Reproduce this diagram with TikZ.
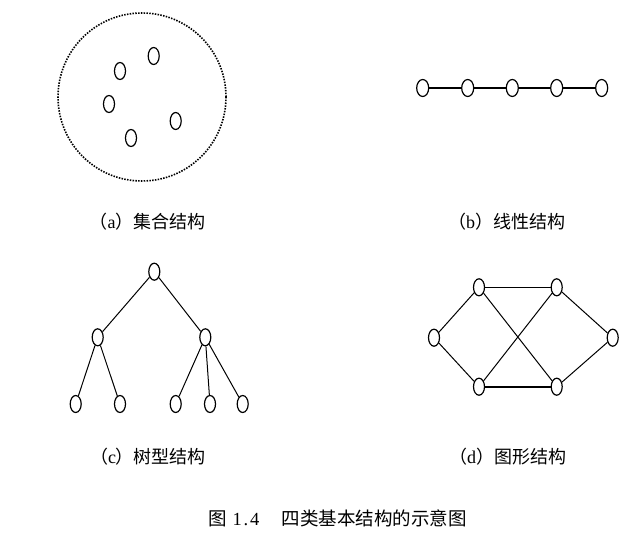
\documentclass[tikz,border=0pt]{standalone}
\usepackage{fontspec}
\setmainfont{Liberation Serif}
\newfontfamily\cjk{Noto Sans CJK SC}
\usetikzlibrary{shapes.geometric}
\begin{document}
\begin{tikzpicture}[x=1pt,y=-1pt,
  vtx/.style={draw,ellipse,line width=1.2pt,minimum width=11pt,minimum height=17pt,inner sep=0pt},
  edge/.style={line width=1pt},
  thick edge/.style={line width=1.6pt},
  captext/.style={font=\fontsize{18}{18}\selectfont, inner sep=0pt}]
\useasboundingbox (0,0) rectangle (636,537);
% (a) set
\node[draw,circle,line width=1.6pt,dash pattern=on 1.5pt off 1.3pt,minimum size=168pt,inner sep=0pt] (set) at (142,97) {};
\node[vtx] (s1) at (153.7,56) {};
\node[vtx] (s2) at (120,71) {};
\node[vtx] (s3) at (109,104) {};
\node[vtx] (s4) at (175.7,121) {};
\node[vtx] (s5) at (131,138) {};
\node[captext] (ca) at (147.5,221.5) {{\cjk （}a{\cjk ）集合结构}};
% (b) linear
\foreach \i/\x in {1/422.7,2/467.7,3/512.3,4/556.7,5/601.7}
  \node[vtx,minimum width=12pt] (l\i) at (\x,88) {};
\draw[thick edge] (l1) -- (l2) (l2) -- (l3) (l3) -- (l4) (l4) -- (l5);
\node[captext] (cb) at (506.7,221.5) {{\cjk （}b{\cjk ）线性结构}};
% (c) tree
\node[vtx] (t) at (154.3,271.7) {};
\node[vtx] (tl) at (97.7,337.3) {};
\node[vtx] (tr) at (205.3,337.3) {};
\node[vtx] (t1) at (75.7,404) {};
\node[vtx] (t2) at (120,404) {};
\node[vtx] (t3) at (175.7,404) {};
\node[vtx] (t4) at (210,404) {};
\node[vtx] (t5) at (242.7,404) {};
\draw[edge] (t) -- (tl) (t) -- (tr) (tl) -- (t1) (tl) -- (t2) (tr) -- (t3) (tr) -- (t4) (tr) -- (t5);
\node[captext] (cc) at (148,456.5) {{\cjk （}c{\cjk ）树型结构}};
% (d) graph
\node[vtx] (g1) at (479,287.3) {};
\node[vtx] (g2) at (556.7,287.3) {};
\node[vtx] (g0) at (434,337.7) {};
\node[vtx] (g5) at (612.7,337.7) {};
\node[vtx] (g3) at (479,386.7) {};
\node[vtx] (g4) at (556.7,386.7) {};
\draw[edge] (g0) -- (g1) (g0) -- (g3) (g1) -- (g4) (g3) -- (g2) (g2) -- (g5) (g4) -- (g5);
\draw[thick edge] (g1) -- (g2) (g3) -- (g4);
\node[captext] (cd) at (507.5,456.5) {{\cjk （}d{\cjk ）图形结构}};
% caption
\node[captext,font=\fontsize{18.5}{18.5}\selectfont] (fig) at (337.5,518) {{\cjk 图}\hspace{0.3em}1\hspace{0.1em}.\hspace{0.1em}4\hspace{1.2em}{\cjk 四类基本结构的示意图}};
\end{tikzpicture}
\end{document}
